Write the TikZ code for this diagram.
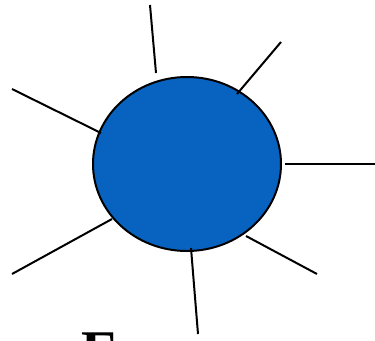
\documentclass[tikz,border=0pt]{standalone}
\usepackage{fontspec}
\setmainfont{Liberation Serif}
\definecolor{ballblue}{RGB}{7,99,191}
\begin{document}
\begin{tikzpicture}[x=0.75pt,y=-0.75pt,
  ray/.style={line width=1.5pt,black},
  ball/.style={draw=black,line width=1.5pt,fill=ballblue}]
\useasboundingbox (0,0) rectangle (375,340);
\begin{scope}
\clip (0,0) rectangle (375,340);
\filldraw[ball] (187,164) ellipse [x radius=94, y radius=87];
\coordinate (a1) at (150,5);   \coordinate (b1) at (156,73);
\coordinate (a2) at (281,42);  \coordinate (b2) at (237,94);
\coordinate (a3) at (12,89);   \coordinate (b3) at (101,133);
\coordinate (a4) at (375,164); \coordinate (b4) at (285,164);
\coordinate (a5) at (12,274);  \coordinate (b5) at (112,219);
\coordinate (a6) at (317,274); \coordinate (b6) at (246,236);
\coordinate (a7) at (198,334); \coordinate (b7) at (191,248);
\foreach \i in {1,...,7} \draw[ray] (a\i) -- (b\i);
\node[anchor=base west,inner sep=0pt,font=\fontsize{42}{42}\selectfont\bfseries] (e) at (81,369) {E};
\end{scope}
\end{tikzpicture}
\end{document}
